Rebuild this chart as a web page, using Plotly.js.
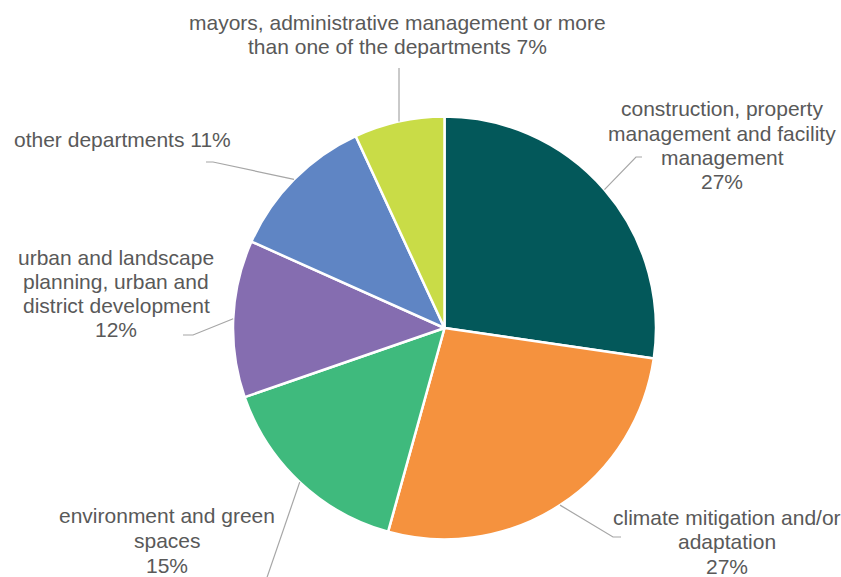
<!DOCTYPE html>
<html>
<head>
<meta charset="utf-8">
<script src="https://cdn.plot.ly/plotly-3.0.1.min.js"></script>
<style>html,body{margin:0;padding:0;background:#fff;}#chart{width:841px;height:577px;}</style>
</head>
<body>
<div id="chart"></div>
<script>
// Data
var categories = [
  "construction, property management and facility management",
  "climate mitigation and/or adaptation",
  "environment and green spaces",
  "urban and landscape planning, urban and district development",
  "other departments",
  "mayors, administrative management or more than one of the departments"
];
var values = [27.3, 27.0, 15.4, 12.0, 11.4, 6.9];
var percentLabels = ["27%", "27%", "15%", "12%", "11%", "7%"];
var labelLines = [
  ["construction, property", "management and facility", "management", "27%"],
  ["climate mitigation and/or", "adaptation", "27%"],
  ["environment and green", "spaces", "15%"],
  ["urban and landscape", "planning, urban and", "district development", "12%"],
  ["other departments 11%"],
  ["mayors, administrative management or more", "than one of the departments 7%"]
];
var colors = ["#03585A", "#F5923E", "#3FBA7D", "#856DB0", "#5F85C4", "#C9DC47"];

// Layout constants (pixels)
var W = 841, H = 577;
var cx = 444.5, cy = 328, R = 211.5;
var labelPos = [ // [centerX, firstLineY, lineStep]
  [722, 109, 24.3],
  [727, 517, 24.5],
  [167, 515, 25],
  [116, 257, 24.3],
  [122, 140, 24],
  [397, 23, 24]
];
var leaderTail = [
  [[636, 157], [642, 157]],
  [[613, 537], [621, 537]],
  [[262, 592]],
  [[193, 335], [183, 335]],
  [[213, 162], [206, 162]],
  [[null, 68]]
];

function px(x) { return x / W; }
function py(y) { return 1 - y / H; }

var total = values.reduce(function (a, b) { return a + b; }, 0);
var shapes = [];
var annotations = [];
var cum = 0;
for (var i = 0; i < values.length; i++) {
  var mid = (cum + values[i] / 2) / total * 2 * Math.PI;
  cum += values[i];
  var ex = cx + R * Math.sin(mid);
  var ey = cy - R * Math.cos(mid);
  var path = "M" + px(ex) + "," + py(ey);
  leaderTail[i].forEach(function (p) {
    var tx = p[0] === null ? ex : p[0];
    path += " L" + px(tx) + "," + py(p[1]);
  });
  shapes.push({type: "path", xref: "paper", yref: "paper", path: path,
    line: {color: "#A6A6A6", width: 1.2}});
  var lp = labelPos[i];
  labelLines[i].forEach(function (t, k) {
    annotations.push({
      xref: "paper", yref: "paper",
      x: px(lp[0]), y: py(lp[1] + k * lp[2]),
      xanchor: "center", yanchor: "middle",
      text: t, showarrow: false,
      font: {family: "Liberation Sans, Arial, sans-serif", size: 21, color: "#595959"}
    });
  });
}

var trace = {
  type: "pie",
  labels: categories,
  values: values,
  sort: false,
  direction: "clockwise",
  rotation: 0,
  textinfo: "none",
  hoverinfo: "none",
  showlegend: false,
  marker: {colors: colors, line: {color: "#FFFFFF", width: 2.5}},
  domain: {x: [px(cx - R), px(cx + R)], y: [py(cy + R), py(cy - R)]}
};

var layout = {
  width: W, height: H,
  margin: {l: 0, r: 0, t: 0, b: 0},
  paper_bgcolor: "#FFFFFF",
  plot_bgcolor: "#FFFFFF",
  showlegend: false,
  shapes: shapes,
  annotations: annotations
};

Plotly.newPlot("chart", [trace], layout, {displayModeBar: false, staticPlot: true});
</script>
</body>
</html>
